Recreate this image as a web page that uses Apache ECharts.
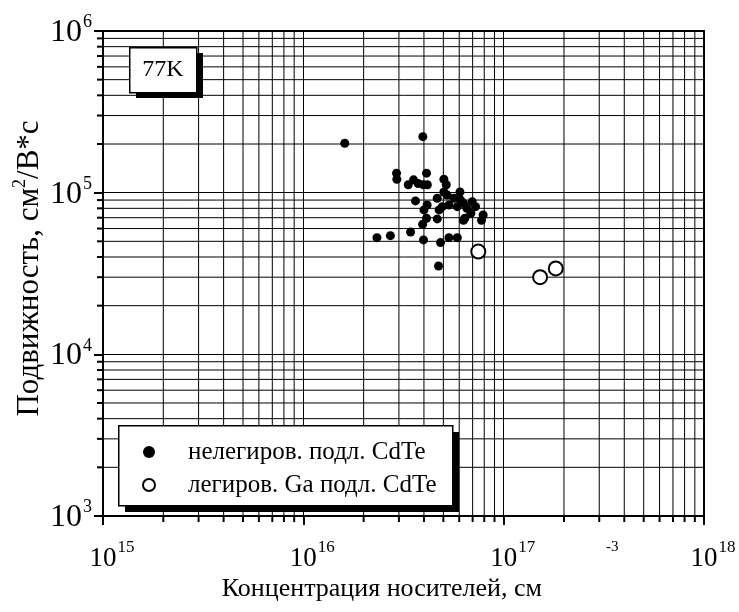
<!DOCTYPE html>
<html><head><meta charset="utf-8">
<script src="https://cdn.jsdelivr.net/npm/echarts@6/dist/echarts.min.js"></script>
<style>html,body{margin:0;padding:0;background:#fff}#c{width:739px;height:612px}</style>
</head><body><div id="c"></div>
<script>
// ---- data ----
const undopedX = [1.61e16, 3.95e16, 2.92e16, 2.93e16, 4.12e16, 3.34e16, 3.55e16, 3.74e16, 3.98e16, 4.16e16, 5.03e16, 5.17e16, 3.63e16, 4.15e16, 4.0e16, 4.12e16, 3.94e16, 4.66e16, 3.43e16, 2.33e16, 2.72e16, 3.98e16, 4.84e16, 5.33e16, 5.87e16, 4.73e16, 4.66e16, 5.03e16, 5.22e16, 4.94e16, 5.33e16, 5.65e16, 6.05e16, 6.1e16, 5.87e16, 6.3e16, 6.55e16, 6.97e16, 7.24e16, 6.86e16, 6.4e16, 6.3e16, 7.9e16, 7.75e16, 4.76e16];
const undopedY = [2.02e5, 2.22e5, 1.32e5, 1.21e5, 1.32e5, 1.12e5, 1.2e5, 1.14e5, 1.12e5, 1.12e5, 1.21e5, 1.12e5, 8.89e4, 8.39e4, 7.82e4, 6.95e4, 6.37e4, 6.88e4, 5.71e4, 5.27e4, 5.42e4, 5.1e4, 4.91e4, 5.27e4, 5.27e4, 3.52e4, 9.24e4, 1.01e5, 9.68e4, 8.19e4, 8.39e4, 9.24e4, 1.01e5, 9.0e4, 8.19e4, 8.6e4, 8.0e4, 8.8e4, 8.19e4, 7.46e4, 6.95e4, 6.74e4, 7.28e4, 6.74e4, 7.82e4];
const gaX = [7.47e16, 1.52e17, 1.82e17];
const gaY = [4.32e4, 3.0e4, 3.4e4];
const seriesNames = ['нелегиров. подл. CdTe', 'легиров. Ga подл. CdTe'];
const xDecades = [15, 16, 17, 18];
const yDecades = [3, 4, 5, 6];
const minorMultipliers = [2, 3, 4, 5, 6, 7, 8, 9];
const xTitle = 'Концентрация носителей, см';
const xTitleSup = '-3';
const yTitleA = 'Подвижность, см';
const yTitleSup = '2';
const yTitleB = '/В*с';
const tempLabel = '77K';

// ---- build ----
const xMin = Math.pow(10, xDecades[0]), xMax = Math.pow(10, xDecades[xDecades.length - 1]);
const yMin = Math.pow(10, yDecades[0]), yMax = Math.pow(10, yDecades[yDecades.length - 1]);
const xMinor = [], yMinor = [];
xDecades.slice(0, -1).forEach(d => minorMultipliers.forEach(m => xMinor.push([m * Math.pow(10, d), yMin])));
yDecades.slice(0, -1).forEach(d => minorMultipliers.forEach(m => yMinor.push([xMin, m * Math.pow(10, d)])));
const undoped = undopedX.map((x, i) => [x, undopedY[i]]);
const doped = gaX.map((x, i) => [x, gaY[i]]);

const FONT = '"Liberation Serif","DejaVu Serif",serif';
const supLabel = v => '{b|10}{s|' + Math.round(Math.log10(v)) + '}';
const xTickRich = {
  b: {fontSize: 27, fontFamily: FONT, color: '#000', lineHeight: 33, verticalAlign: 'bottom'},
  s: {fontSize: 17, fontFamily: FONT, color: '#000', lineHeight: 17, verticalAlign: 'top', padding: [0, 0, 0, 1]}
};
const yTickRich = {
  b: {fontSize: 32, fontFamily: FONT, color: '#000', lineHeight: 35, verticalAlign: 'bottom'},
  s: {fontSize: 18, fontFamily: FONT, color: '#000', lineHeight: 18, verticalAlign: 'top', padding: [0, 0, 0, 1]}
};
const lineStyle = {color: '#000', width: 1};

const chart = echarts.init(document.getElementById('c'));
chart.setOption({
  animation: false,
  backgroundColor: '#fff',
  grid: {left: 103, right: 35, top: 31, bottom: 96, show: true, borderColor: '#000', borderWidth: 2,
         backgroundColor: 'transparent', containLabel: false, outerBoundsMode: 'none'},
  xAxis: {
    type: 'log', logBase: 10, min: xMin, max: xMax,
    axisLine: {lineStyle: {color: '#000', width: 2}},
    axisTick: {show: true, inside: false, length: 9, lineStyle: {color: '#000', width: 2}},
    splitLine: {show: true, lineStyle: lineStyle},
    axisLabel: {margin: 23, formatter: supLabel, rich: xTickRich, padding: [0, 0, 0, 18]},
    name: '{h| }{t|' + xTitle + '}{s|' + xTitleSup + '}',
    nameLocation: 'middle', nameGap: 24, nameMoveOverlap: false,
    nameTextStyle: {rich: {
      h: {fontSize: 1, height: 62, lineHeight: 62},
      t: {fontSize: 26, fontFamily: FONT, color: '#000', lineHeight: 30, verticalAlign: 'bottom'},
      s: {fontSize: 15, fontFamily: FONT, color: '#000', lineHeight: 15, verticalAlign: 'top', padding: [0, 0, 0, 64]}
    }, padding: [0, 0, 0, 33]}
  },
  yAxis: {
    type: 'log', logBase: 10, min: yMin, max: yMax,
    axisLine: {lineStyle: {color: '#000', width: 2}},
    axisTick: {show: true, inside: false, length: 9, lineStyle: {color: '#000', width: 2}},
    splitLine: {show: true, lineStyle: lineStyle},
    axisLabel: {margin: 11, formatter: supLabel, rich: yTickRich},
    name: '{t|' + yTitleA + '}{s|' + yTitleSup + '}{t|' + yTitleB + '}',
    nameLocation: 'middle', nameGap: 58, nameRotate: 90, nameMoveOverlap: false,
    nameTextStyle: {rich: {
      t: {fontSize: 31, fontFamily: FONT, color: '#000', lineHeight: 34, verticalAlign: 'bottom'},
      s: {fontSize: 18, fontFamily: FONT, color: '#000', lineHeight: 18, verticalAlign: 'top'}
    }, padding: [0, 0, 0, 10]}
  },
  legend: {
    orient: 'vertical', left: 142, top: 437, z: 60,
    data: [
      {name: seriesNames[0], icon: 'circle', itemStyle: {color: '#000', borderWidth: 0}},
      {name: seriesNames[1], icon: 'circle', itemStyle: {color: '#fff', borderColor: '#000', borderWidth: 2}}
    ],
    itemWidth: 12, itemHeight: 12, itemGap: 3,
    padding: 0,
    textStyle: {fontSize: 25, fontFamily: FONT, color: '#000', lineHeight: 30, padding: [0, 0, 0, 28]}
  },
  graphic: [
    {type: 'rect', left: 125, top: 432, shape: {width: 334, height: 80}, style: {fill: '#000'}, z: 50},
    {type: 'rect', left: 118, top: 425, shape: {width: 334, height: 80}, style: {fill: '#fff', stroke: '#000', lineWidth: 1.5}, z: 51},
    {type: 'rect', left: 136, top: 53, shape: {width: 67, height: 45}, style: {fill: '#000'}, z: 100},
    {type: 'rect', left: 129, top: 47, shape: {width: 67, height: 45}, style: {fill: '#fff', stroke: '#000', lineWidth: 1.5}, z: 101},
    {type: 'text', x: 163, y: 70, style: {text: tempLabel, font: '24px ' + FONT, fill: '#000', align: 'center', verticalAlign: 'middle'}, z: 102}
  ],
  series: [
    {
      type: 'custom', coordinateSystem: 'cartesian2d', data: xMinor, silent: true, z: 1,
      encode: {x: 0, y: 1},
      renderItem: (params, api) => {
        const v = api.value(0);
        const a = api.coord([v, yMax]), b = api.coord([v, yMin]);
        return {type: 'group', children: [
          {type: 'line', shape: {x1: a[0], y1: a[1], x2: b[0], y2: b[1]}, style: {stroke: '#000', lineWidth: 1}},
          {type: 'line', shape: {x1: b[0], y1: b[1], x2: b[0], y2: b[1] + 6}, style: {stroke: '#000', lineWidth: 2}}
        ]};
      }
    },
    {
      type: 'custom', coordinateSystem: 'cartesian2d', data: yMinor, silent: true, z: 1,
      encode: {x: 0, y: 1},
      renderItem: (params, api) => {
        const v = api.value(1);
        const a = api.coord([xMin, v]), b = api.coord([xMax, v]);
        return {type: 'group', children: [
          {type: 'line', shape: {x1: a[0], y1: a[1], x2: b[0], y2: b[1]}, style: {stroke: '#000', lineWidth: 1}},
          {type: 'line', shape: {x1: a[0] - 6, y1: a[1], x2: a[0], y2: a[1]}, style: {stroke: '#000', lineWidth: 2}}
        ]};
      }
    },
    {
      name: seriesNames[0], type: 'scatter', data: undoped, symbol: 'circle', symbolSize: 9, z: 5,
      itemStyle: {color: '#000', opacity: 1}
    },
    {
      name: seriesNames[1], type: 'scatter', data: doped, symbol: 'circle', symbolSize: 14, z: 5,
      itemStyle: {color: '#fff', borderColor: '#000', borderWidth: 2, opacity: 1}
    }
  ]
});
</script>
</body></html>
